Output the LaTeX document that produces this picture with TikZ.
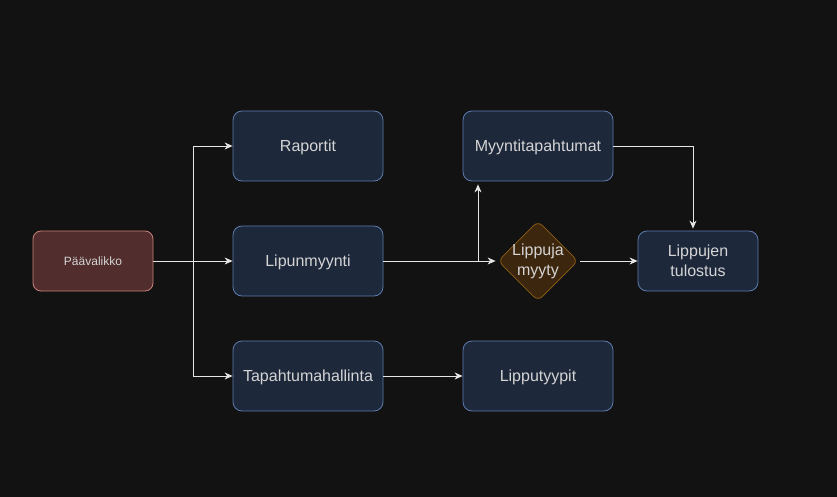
\documentclass[tikz,border=0pt]{standalone}
\usepackage{fontspec}
\setmainfont{Liberation Sans}
\usetikzlibrary{arrows.meta,shapes.geometric}
\definecolor{bg}{HTML}{121212}
\definecolor{boxfill}{HTML}{1E283B}
\definecolor{boxdraw}{HTML}{5C7CAE}
\definecolor{txt}{HTML}{D4D4D4}
\definecolor{mainfill}{HTML}{512D2D}
\definecolor{maindraw}{HTML}{C8827A}
\definecolor{diafill}{HTML}{3D260E}
\definecolor{diadraw}{HTML}{8C5F16}
\definecolor{linec}{HTML}{E6E6E6}
\tikzset{
  box/.style={draw=boxdraw, fill=boxfill, rounded corners=9pt, minimum width=150pt, minimum height=70pt, text=txt, font=\fontsize{16}{20}\selectfont, line width=0.8pt, align=center, inner sep=0pt},
  one/.style={text height=11.5pt, text depth=0pt},
  mainbox/.style={draw=maindraw, fill=mainfill, rounded corners=8pt, minimum width=120pt, minimum height=60pt, text=txt, font=\fontsize{12}{14}\selectfont, line width=0.8pt, inner sep=0pt, text height=8.6pt, text depth=0pt},
  smallbox/.style={box, minimum width=120pt, minimum height=60pt},
  dia/.style={diamond, draw=diadraw, fill=diafill, rounded corners=6pt, minimum width=80pt, minimum height=80pt, text=txt, font=\fontsize{16}{20}\selectfont, align=center, inner sep=-20pt, line width=0.8pt},
  conn/.style={draw=linec, line width=0.9pt},
  arr/.style={conn, -{Stealth[length=8pt,width=7pt,inset=2.5pt]}}
}
\begin{document}
\begin{tikzpicture}[x=1pt,y=-1pt]
\fill[bg] (0,0) rectangle (837,497);
\useasboundingbox (0,0) rectangle (837,497);
\node[mainbox] (pv) at (93,261) {Päävalikko};
\node[box,one] (rap) at (308,146) {Raportit};
\node[box,one] (lip) at (308,261) {Lipunmyynti};
\node[box,one] (tap) at (308,376) {Tapahtumahallinta};
\node[box,one] (myy) at (538,146) {Myyntitapahtumat};
\node[box,one] (typ) at (538,376) {Lipputyypit};
\node[dia] (dm) at (538,261) {Lippuja\\myyty};
\node[smallbox] (tul) at (698,261) {Lippujen\\tulostus};
\coordinate (split) at (193,261);
\coordinate (j) at (478,261);
\coordinate (k) at (693,146);
\draw[arr] (pv.east) -- (lip.west);
\draw[arr] (split) |- (rap.west);
\draw[arr] (split) |- (tap.west);
\draw[arr] (lip.east) -- ([xshift=-2pt]dm.west);
\draw[arr] (j) -- ([yshift=-3pt]myy.south -| j);
\draw[arr] ([xshift=2pt]dm.east) -- (tul.west);
\draw[arr] (myy.east) -| ([yshift=2pt]tul.north -| k);
\draw[arr] (tap.east) -- (typ.west);
\end{tikzpicture}
\end{document}
